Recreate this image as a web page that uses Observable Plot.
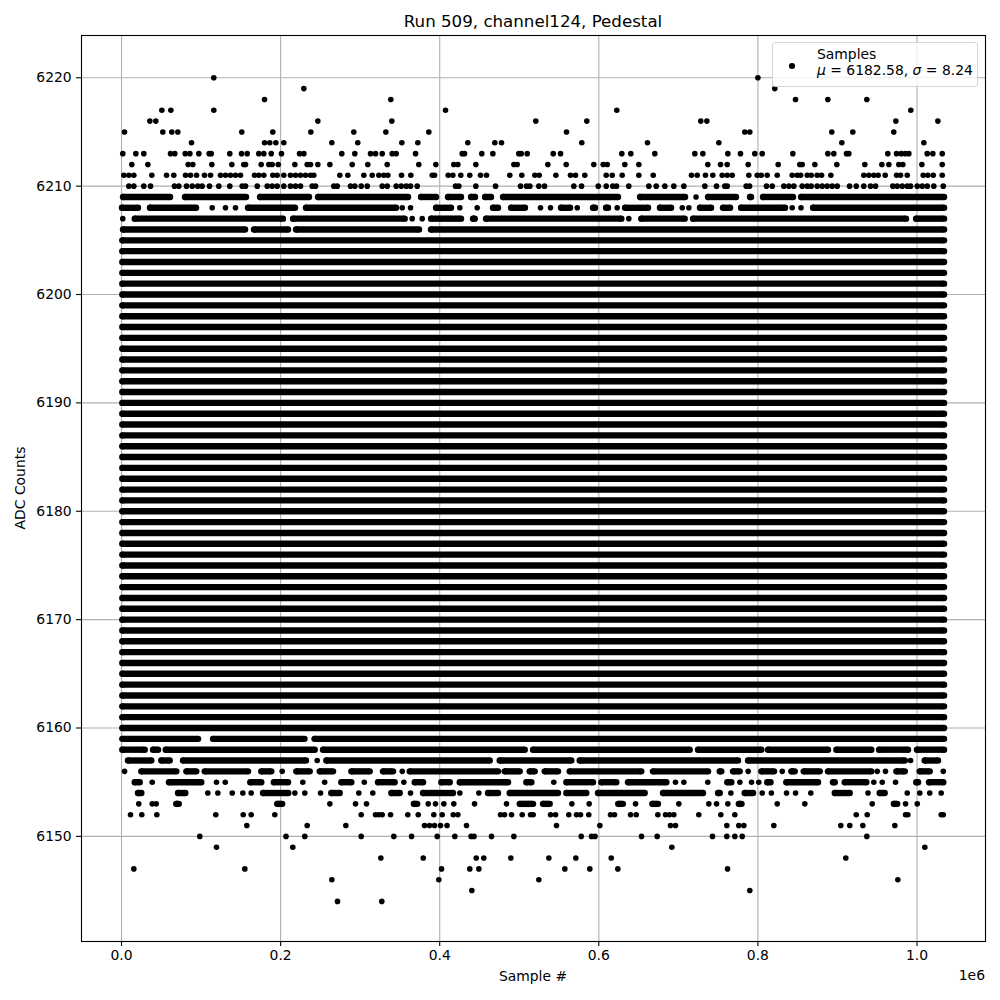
<!DOCTYPE html>
<html><head><meta charset="utf-8">
<script src="https://cdn.jsdelivr.net/npm/d3@7"></script>
<script src="https://cdn.jsdelivr.net/npm/@observablehq/plot@0.6"></script>
<style>
body{margin:0;background:#fff;}
#wrap{position:relative;width:1000px;height:1000px;font-family:"DejaVu Sans",sans-serif;color:#000;overflow:hidden;}
.t{position:absolute;white-space:nowrap;line-height:1;}
#legend{position:absolute;left:772px;top:42px;width:204px;height:43px;border:1px solid #d4d4d4;border-radius:3px;background:rgba(255,255,255,0.8);}
</style></head><body>
<div id="wrap">
  <div id="chart"></div>
  <div class="t" style="left:333px;width:400px;text-align:center;top:14px;font-size:16.67px;">Run 509, channel124, Pedestal</div>
  <div class="t" style="left:433px;width:200px;text-align:center;top:970px;font-size:13.9px;">Sample #</div>
  <div class="t" style="right:15px;top:969px;font-size:13.9px;">1e6</div>
  <div class="t" style="left:21px;top:488px;font-size:13.9px;transform:translate(-50%,-50%) rotate(-90deg);">ADC Counts</div>
  <div id="legend">
    <div style="position:absolute;left:16px;top:20px;width:5.6px;height:5.6px;border-radius:50%;background:#000;"></div>
    <div class="t" style="left:44px;top:5px;font-size:13.9px;">Samples</div>
    <div class="t" style="left:44px;top:21px;font-size:13.9px;"><i>μ</i> = 6182.58, <i>σ</i> = 8.24</div>
  </div>
</div>
<script>
// ---- axis ticks ----
const xTicks = [0, 200000, 400000, 600000, 800000, 1000000];
const yTicks = [6150, 6160, 6170, 6180, 6190, 6200, 6210, 6220];

// ---- ADC levels that are filled across the whole sample range ----
const fullRowLevels = [6160, 6161, 6162, 6163, 6164, 6165, 6166, 6167, 6168, 6169, 6170, 6171, 6172, 6173, 6174, 6175, 6176, 6177, 6178, 6179, 6180, 6181, 6182, 6183, 6184, 6185, 6186, 6187, 6188, 6189, 6190, 6191, 6192, 6193, 6194, 6195, 6196, 6197, 6198, 6199, 6200, 6201, 6202, 6203, 6204, 6205];
const fullRowSpan_k = [1, 1034]; // sample # in thousands

// ---- partially filled levels: runs of consecutive samples [start, end] in thousands ----
const partialRuns = [
  [6209, [[1.9,61.0],[79.8,156.5],[174.1,235.7],[247.0,360.2],[376.5,395.4],[410.4,426.8],[439.4,444.4],[457.0,464.5],[479.6,624.1],[651.8,708.4],[722.2,722.2],[737.3,772.5],[790.1,791.4],[806.4,844.1],[854.2,1034]]],
  [6208, [[0.6,20.7],[35.8,93.7],[114.0,114.0],[130.7,130.7],[143.3,143.3],[159.0,218.1],[231.9,345.1],[352.9,352.9],[363.3,363.3],[395.4,414.2],[425.3,425.3],[447.1,447.1],[467.0,473.3],[489.6,507.2],[526.7,526.7],[539.3,539.3],[552.5,563.8],[572.9,572.9],[592.7,595.2],[609.1,611.6],[623.1,623.1],[633.0,661.9],[676.9,690.8],[704.9,704.9],[713.2,713.2],[727.2,741.1],[756.1,765.0],[778.8,834.1],[843.1,843.1],[854.2,854.2],[869.3,1034]]],
  [6207, [[1.6,1.6],[16.6,203.0],[215.6,356.0],[365.4,365.4],[378.0,378.0],[389.1,426.8],[441.9,444.0],[458.2,628.3],[637.7,637.7],[653.4,708.0],[718.4,986.2],[998.8,1034]]],
  [6206, [[1.9,155.3],[166.6,209.3],[219.4,374.0],[389.1,1034]]],
  [6159, [[1,96.2],[115.0,230.0],[242.6,1034]]],
  [6158, [[1,29.2],[39.6,45.9],[55.6,242.9],[253.3,506.9],[517.3,714.3],[724.7,804.3],[812.7,888.1],[898.6,942.6],[952.3,988.7],[1000.0,1034]]],
  [6157, [[8.2,37.5],[50.0,60.6],[77.3,231.9],[246.0,246.0],[257.5,462.9],[475.4,565.4],[576.0,775.0],[787.6,984.6],[991.9,991.9],[1009.7,1026.4]]],
  [6156, [[3.8,3.8],[24.9,68.9],[81.5,94.0],[104.6,159.0],[175.7,188.3],[202.0,202.0],[219.7,236.6],[249.2,265.9],[288.9,312.0],[328.7,341.3],[352.9,352.9],[362.3,473.3],[481.7,500.6],[513.1,519.4],[532.0,548.7],[563.4,653.4],[668.1,737.3],[752.0,754.0],[768.7,777.1],[787.8,787.8],[804.3,820.3],[830.6,830.6],[842.0,846.3],[857.6,877.7],[888.1,942.6],[950.0,950.0],[960.4,960.4],[974.0,984.6],[1003.4,1016.0],[1033,1033]]],
  [6155, [[16.6,22.9],[38.6,38.6],[59.7,100.3],[119.4,119.4],[130.4,130.4],[161.9,175.7],[191.5,209.3],[227.9,227.9],[255.4,255.4],[276.3,288.9],[305.2,305.2],[322.4,343.4],[354.9,354.9],[368.6,379.0],[402.0,412.6],[425.2,485.9],[508.9,515.2],[543.4,543.4],[559.2,592.7],[603.2,622.0],[636.7,684.9],[696.4,696.4],[706.9,706.9],[737.0,737.0],[761.5,766.6],[777.3,777.3],[792.0,792.0],[801.1,801.1],[811.7,815.9],[835.7,875.6],[894.4,896.6],[909.1,936.3],[945.7,945.7],[956.3,956.3],[973.0,973.0],[999.1,1001.3],[1015.1,1033]]],
  [6154, [[20.7,24.9],[71.0,80.2],[108.5,108.5],[121.1,121.1],[139.2,139.2],[152.5,152.5],[163.0,163.0],[177.9,209.6],[217.9,217.9],[230.4,230.4],[250.2,250.2],[263.7,274.3],[298.3,298.3],[315.9,315.9],[339.2,349.7],[363.3,363.3],[379.0,416.7],[425.3,425.3],[449.2,449.2],[460.7,473.3],[488.0,548.7],[559.2,584.3],[599.0,657.7],[680.7,731.0],[749.9,752.0],[766.0,766.0],[783.4,793.9],[805.4,805.4],[816.9,816.9],[836.0,836.0],[847.3,847.3],[866.5,866.5],[896.6,915.4],[938.4,938.4],[953.1,959.4],[987.7,987.7],[1003.5,1003.5],[1016.0,1016.0],[1030.4,1030.4]]],
  [6153, [[21.7,21.7],[38.6,38.6],[43.6,43.6],[68.8,72.0],[195.7,202.0],[261.9,261.9],[294.2,294.2],[308.0,308.0],[367.5,371.7],[385.6,385.6],[394.7,394.7],[405.2,405.2],[417.7,417.7],[443.8,443.8],[484.0,484.0],[500.6,517.3],[529.9,538.3],[566.1,566.1],[587.9,587.9],[624.4,630.2],[646.2,646.2],[667.3,674.4],[700.6,700.6],[738.3,738.3],[748.0,748.0],[762.2,762.2],[776.0,779.4],[824.3,824.3],[859.0,859.0],[943.7,943.7],[970.9,975.1],[985.6,985.6],[1000.3,1000.3]]]
];

// ---- isolated samples per ADC level (sample # in thousands) ----
const outlierPoints = [
  [6220, [116.0, 800.0]],
  [6219, [229.2, 821.2]],
  [6218, [179.8, 338.5, 847.3, 887.9, 936.9]],
  [6217, [50.7, 62.0, 116.0, 407.3, 622.6, 992.2]],
  [6216, [35.6, 43.1, 246.8, 339.8, 520.8, 584.9, 728.2, 735.8, 973.4, 1026.2]],
  [6215, [3.8, 51.9, 63.2, 70.8, 151.2, 190.2, 238.0, 292.0, 332.3, 386.3, 559.4, 783.5, 789.8, 892.9, 919.3, 970.8]],
  [6214, [88.0, 179.8, 186.4, 194.0, 204.0, 264.4, 297.0, 352.4, 372.5, 435.3, 469.3, 477.7, 578.6, 661.2, 750.9, 905.5, 1008.6]],
  [6213, [1.6, 18.0, 28.0, 61.6, 67.0, 80.1, 85.9, 97.2, 110.2, 112.8, 136.1, 150.9, 158.0, 172.6, 178.9, 188.2, 201.1, 223.8, 229.2, 276.9, 293.3, 313.0, 319.3, 327.7, 340.3, 345.3, 369.6, 428.3, 431.2, 452.9, 466.8, 499.4, 502.5, 510.0, 542.7, 551.9, 628.9, 640.2, 670.4, 720.7, 730.8, 762.2, 778.1, 796.1, 805.4, 843.9, 887.9, 895.4, 911.4, 914.3, 963.3, 974.3, 980.2, 985.2, 989.7, 1012.8, 1019.9, 1031.7]],
  [6212, [12.9, 33.1, 83.8, 89.6, 113.5, 138.7, 153.7, 155.9, 175.6, 185.2, 189.4, 197.0, 217.9, 233.4, 237.6, 246.8, 261.9, 290.0, 309.6, 334.0, 373.7, 395.1, 417.7, 422.8, 445.4, 493.2, 497.4, 535.9, 559.0, 593.7, 605.5, 610.6, 632.7, 650.3, 737.0, 753.0, 761.4, 787.8, 825.5, 852.7, 855.7, 871.6, 899.2, 934.4, 955.8, 964.6, 977.1, 982.2, 1006.1, 1031.7]],
  [6211, [2.9, 9.2, 15.5, 38.1, 56.6, 65.7, 80.5, 86.7, 94.3, 104.3, 111.9, 124.5, 130.7, 137.0, 143.3, 149.6, 167.2, 172.6, 178.9, 190.2, 195.7, 204.0, 212.4, 218.7, 225.0, 231.3, 237.6, 241.7, 274.4, 284.5, 304.6, 315.2, 323.5, 329.7, 334.8, 352.0, 363.7, 390.6, 393.5, 410.7, 416.5, 426.5, 437.8, 451.3, 458.8, 488.1, 503.2, 519.6, 525.1, 546.0, 564.4, 570.7, 582.4, 609.3, 616.9, 629.4, 650.3, 668.4, 716.5, 723.7, 734.1, 743.3, 755.1, 761.4, 767.7, 788.6, 799.1, 804.2, 811.7, 824.3, 843.1, 849.4, 853.6, 862.0, 867.0, 874.5, 880.0, 891.7, 933.1, 939.4, 945.7, 951.2, 960.0, 974.3, 979.3, 987.7, 1007.8, 1013.6, 1020.4, 1031.7]],
  [6210, [9.2, 15.5, 28.0, 36.5, 66.6, 72.0, 81.7, 88.9, 95.9, 101.4, 110.6, 122.3, 136.1, 151.7, 155.9, 170.6, 183.2, 189.4, 195.7, 204.0, 212.4, 218.7, 225.0, 239.7, 243.9, 266.9, 271.2, 287.9, 293.3, 301.3, 308.9, 327.7, 334.0, 345.3, 351.6, 357.9, 363.3, 371.7, 419.9, 424.0, 445.4, 470.2, 501.6, 509.1, 513.3, 524.6, 531.8, 568.6, 578.3, 599.3, 609.3, 617.6, 622.3, 637.7, 662.9, 672.2, 683.0, 694.3, 706.9, 733.3, 748.0, 758.4, 761.4, 785.3, 789.5, 810.8, 818.0, 832.6, 838.9, 845.2, 855.7, 862.0, 867.0, 874.5, 880.8, 887.1, 893.4, 899.7, 915.2, 923.6, 933.1, 941.6, 947.9, 969.6, 975.1, 981.4, 987.7, 991.9, 1000.3, 1006.6, 1012.9, 1021.1, 1033.0]],
  [6152, [11.3, 25.5, 44.4, 118.5, 153.0, 163.0, 192.7, 301.3, 319.3, 323.5, 327.7, 338.2, 359.9, 373.0, 392.6, 403.1, 417.0, 422.8, 476.4, 481.5, 490.3, 503.7, 514.2, 517.5, 539.3, 545.6, 562.3, 572.0, 577.0, 587.4, 614.7, 619.7, 639.9, 647.0, 674.2, 683.9, 688.9, 694.3, 725.7, 753.4, 771.0, 923.6, 937.4, 985.6, 988.5, 1030.4, 1033.0]],
  [6151, [157.5, 233.4, 282.0, 380.9, 387.2, 393.5, 401.0, 409.2, 433.7, 546.8, 601.3, 690.1, 696.4, 760.9, 776.0, 782.3, 820.0, 904.2, 915.5, 931.9, 972.1]],
  [6150, [98.4, 206.8, 230.4, 301.3, 342.3, 364.6, 396.9, 419.0, 439.4, 443.1, 465.1, 493.2, 577.9, 590.8, 595.2, 653.7, 673.4, 742.9, 760.9, 771.0, 780.3, 936.9]],
  [6149, [119.4, 215.3, 691.8, 1009.8]],
  [6148, [326.0, 379.3, 445.9, 455.4, 489.4, 537.2, 571.1, 615.6, 910.5]],
  [6147, [15.5, 155.0, 402.3, 437.8, 449.2, 557.3, 588.7, 623.9, 761.8]],
  [6146, [264.4, 398.9, 524.6, 975.9]],
  [6145, [440.4, 789.8]],
  [6144, [271.5, 327.2]]
];

// ---- build tables ----
const runs = [];
for (const adc of fullRowLevels) runs.push({adc, start: fullRowSpan_k[0] * 1000, end: fullRowSpan_k[1] * 1000});
for (const [adc, list] of partialRuns) for (const [a, b] of list) runs.push({adc, start: a * 1000, end: b * 1000});
const longRuns = runs.filter(r => r.end > r.start);
const runEnds = [];
for (const r of longRuns) { runEnds.push({adc: r.adc, sample: r.start}); runEnds.push({adc: r.adc, sample: r.end}); }
const singles = runs.filter(r => r.end === r.start).map(r => ({adc: r.adc, sample: r.start}));
for (const [adc, list] of outlierPoints) for (const x of list) singles.push({adc, sample: x * 1000});

const chart = Plot.plot({
  width: 1000,
  height: 1000,
  marginLeft: 81,
  marginRight: 15,
  marginTop: 35,
  marginBottom: 59,
  style: {fontFamily: "DejaVu Sans, sans-serif", fontSize: "13.9px", color: "black", background: "white", overflow: "visible"},
  x: {domain: [-50300, 1086100]},
  y: {domain: [6140.3, 6223.9]},
  marks: [
    Plot.gridX(xTicks, {stroke: "#b0b0b0", strokeOpacity: 1, strokeWidth: 1.1}),
    Plot.gridY(yTicks, {stroke: "#b0b0b0", strokeOpacity: 1, strokeWidth: 1.1}),
    Plot.ruleY(longRuns, {y: "adc", x1: "start", x2: "end", stroke: "black", strokeWidth: 6.4}),
    Plot.dot(runEnds, {x: "sample", y: "adc", r: 3.2, fill: "black"}),
    Plot.dot(singles, {x: "sample", y: "adc", r: 2.8, fill: "black"}),
    Plot.frame({stroke: "black", strokeWidth: 1.1}),
    Plot.axisX(xTicks, {tickFormat: d => (d / 1e6).toFixed(1), tickSize: 4.9, tickPadding: 4, strokeWidth: 1.1, label: null, fontSize: 13.9}),
    Plot.axisY(yTicks, {tickFormat: d => String(d), tickSize: 4.9, tickPadding: 4.9, strokeWidth: 1.1, label: null, fontSize: 13.9})
  ]
});
document.getElementById("chart").appendChild(chart);
</script>
</body></html>
